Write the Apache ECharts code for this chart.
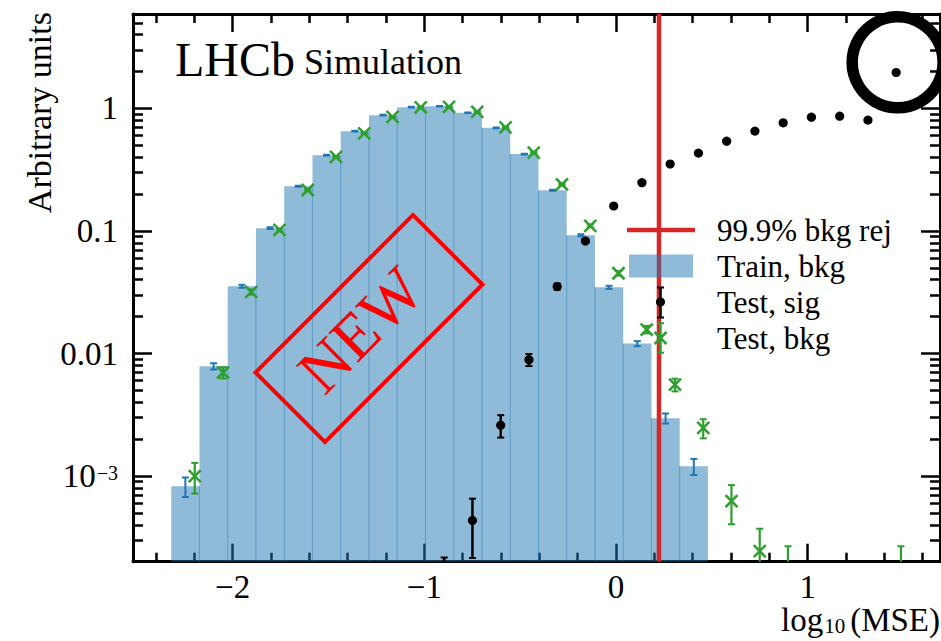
<!DOCTYPE html>
<html><head><meta charset="utf-8">
<script src="https://cdn.jsdelivr.net/npm/echarts@6/dist/echarts.min.js"></script>
<style>html,body{margin:0;padding:0;background:#fff}#c{width:941px;height:641px}</style>
</head><body><div id="c"></div>
<script>
// ---------------- data ----------------
const binEdges = [-2.3205, -2.1731, -2.0258, -1.8784, -1.7310, -1.5837, -1.4363, -1.2889, -1.1416, -0.9942,
  -0.8468, -0.6995, -0.5521, -0.4047, -0.2574, -0.1100, 0.0374, 0.1847, 0.3321, 0.4794];
const trainBkg = [8.24e-4, 7.87e-3, 0.0354, 0.1054, 0.232, 0.416, 0.653, 0.882, 1.025, 1.044,
  0.921, 0.695, 0.424, 0.215, 0.0923, 0.0347, 0.01205, 0.00296, 0.0012];
const trainErr = [1.5e-4, 4.6e-4, 9.8e-4, 0.0017, 0.0025, 0.0034, 0.0042, 0.0049, 0.0053, 0.0053,
  0.0050, 0.0043, 0.0034, 0.0024, 0.0016, 0.00097, 0.00057, 0.00028, 0.00018];
const testX = [-2.2468, -2.0995, -1.9521, -1.8047, -1.6574, -1.5100, -1.3626, -1.2153, -1.0679, -0.9205,
  -0.7732, -0.6258, -0.4784, -0.3311, -0.1837, -0.0363, 0.1110, 0.2584, 0.4058, 0.5531,
  0.7005, 0.8479, 0.9952, 1.1426, 1.2900, 1.4373];
const testSig = [null, null, null, null, null, null, null, null, null, 1.08e-4,
  4.34e-4, 2.6e-3, 0.0089, 0.0352, 0.083, 0.16, 0.248, 0.352, 0.432, 0.541,
  0.653, 0.763, 0.849, 0.865, 0.803, 1.965];
const testSigErr = [null, null, null, null, null, null, null, null, null, 1.08e-4,
  2.2e-4, 5.4e-4, 1.0e-3, 2.0e-3, 3.0e-3, 4.2e-3, 5.0e-3, 6.6e-3, 7.3e-3, 8.2e-3,
  9.0e-3, 9.7e-3, 1.02e-2, 1.03e-2, 9.9e-3, 1.55e-2];
const testBkg = [1.0e-3, 0.0070, 0.0318, 0.102, 0.216, 0.403, 0.625, 0.855, 1.02, 1.03,
  0.938, 0.70, 0.436, 0.24, 0.11, 0.0452, 0.0157, 0.00557, 0.00247, 6.24e-4,
  2.44e-4, 1.34e-4, null, null, null, 1.34e-4];
const testBkgErr = [2.8e-4, 7.4e-4, 1.56e-3, 2.8e-3, 4.1e-3, 5.6e-3, 6.9e-3, 8.1e-3, 8.9e-3, 8.9e-3,
  8.5e-3, 7.3e-3, 5.8e-3, 4.3e-3, 2.9e-3, 1.9e-3, 1.1e-3, 6.6e-4, 4.4e-4, 2.2e-4,
  1.27e-4, 1.34e-4, null, null, null, 1.34e-4];
const cutValue = 0.224;
const circleMark = [1.469, 2.38];
const stampCenter = [-1.289, 0.016];
const xMajor = [-2, -1, 0, 1];
const xMinor = [-2.4, -2.2, -1.8, -1.6, -1.4, -1.2, -0.8, -0.6, -0.4, -0.2, 0.2, 0.4, 0.6, 0.8, 1.2, 1.4, 1.6];
const yMajor = [0.001, 0.01, 0.1, 1];
const legendNames = ['99.9% bkg rej', 'Train, bkg', 'Test, sig', 'Test, bkg'];

// ---------------- layout / style ----------------
const X_MIN = -2.52, X_MAX = 1.69, Y_MIN = 2e-4, Y_MAX = 5.9;
const SIG_SHIFT = 0.024, BKG_SHIFT = 0.049;
const FONT = "'Liberation Serif', 'Times New Roman', serif";
const yMinor = [];
for (let e = -4; e <= 0; e++) for (let m = 2; m <= 9; m++) {
  const v = parseFloat(m + 'e' + e);
  if (v > Y_MIN && v < Y_MAX) yMinor.push(v);
}
const BLUE_FILL = 'rgba(31,119,180,0.5)';
const GRID = {left: 133, right: 1, top: 14, bottom: 79.3, containLabel: false, outerBoundsMode: 'none'};

function fmtX(v) { return '{n|' + (v < 0 ? '\u2212' + Math.abs(v) : String(v)) + '}'; }
function fmtY(v) {
  const e = Math.round(Math.log10(v));
  if (e === 0) return '{n|1}';
  if (e === -1) return '{n|0.1}';
  if (e === -2) return '{n|0.01}';
  return '{n|10}{e|\u2212' + Math.abs(e) + '}';
}
const labelRich = {
  n: {fontSize: 33, fontFamily: FONT, color: '#000'},
  e: {fontSize: 20, fontFamily: FONT, color: '#000', verticalAlign: 'top', padding: [3, 0, 0, 1]}
};

function tickAxisX(gridIndex, pos, values, len, withLine) {
  return {
    type: 'value', gridIndex, position: pos, min: X_MIN, max: X_MAX,
    axisLine: {show: withLine, onZero: false, lineStyle: {color: '#000', width: 3}},
    axisTick: {show: true, inside: true, length: len, customValues: values, lineStyle: {color: '#000', width: 2.5}},
    axisLabel: {show: false}, splitLine: {show: false}
  };
}
function tickAxisY(gridIndex, pos, values, len, withLine) {
  return {
    type: 'log', logBase: 10, gridIndex, position: pos, min: Y_MIN, max: Y_MAX,
    axisLine: {show: withLine, onZero: false, lineStyle: {color: '#000', width: 3}},
    axisTick: {show: true, inside: true, length: len, customValues: values, lineStyle: {color: '#000', width: 2.5}},
    axisLabel: {show: false}, splitLine: {show: false}
  };
}

const xAxes = [
  Object.assign(tickAxisX(0, 'bottom', xMajor, 18, true), {
    axisLabel: {show: true, customValues: xMajor, formatter: fmtX, margin: 9, fontSize: 33, fontFamily: FONT, color: '#000', rich: labelRich},
    name: '{a|log}{s|10}{a|(MSE)}', nameLocation: 'end', nameGap: 0, nameMoveOverlap: false,
    nameTextStyle: {align: 'right', verticalAlign: 'top', padding: [42, 0, 0, 0], fontSize: 33, fontFamily: FONT, color: '#000',
      rich: {a: {fontSize: 33, fontFamily: FONT, color: '#000'},
             s: {fontSize: 21, fontFamily: FONT, color: '#000', verticalAlign: 'bottom', padding: [0, 5, 0, 1]}}}
  }),
  tickAxisX(0, 'top', xMajor, 18, true),
  tickAxisX(1, 'bottom', xMinor, 9, false),
  tickAxisX(1, 'top', xMinor, 9, false)
];
const yAxes = [
  Object.assign(tickAxisY(0, 'left', yMajor, 19, true), {
    axisLabel: {show: true, customValues: yMajor, formatter: fmtY, margin: 15, fontSize: 33, fontFamily: FONT, color: '#000', rich: labelRich},
    name: 'Arbitrary units', nameLocation: 'end', nameGap: 2, nameRotate: 90, nameMoveOverlap: false,
    nameTextStyle: {align: 'right', verticalAlign: 'bottom', padding: [0, 0, 77, 0], fontSize: 34, fontFamily: FONT, color: '#000'}
  }),
  tickAxisY(0, 'right', yMajor, 19, true),
  tickAxisY(1, 'left', yMinor, 10, false),
  tickAxisY(1, 'right', yMinor, 10, false)
];

// ---------------- render helpers ----------------
function renderBars(params, api) {
  const x0 = api.value(0), x1 = api.value(1), v = api.value(2), seam = api.value(3);
  const pb = api.coord([x0, Y_MIN]);
  const pt = api.coord([x1, v]);
  const children = [{type: 'rect', shape: {x: pb[0], y: pt[1], width: pt[0] - pb[0], height: pb[1] - pt[1]},
    style: {fill: BLUE_FILL}}];
  if (seam > 0) {
    const s = api.coord([x0, seam]);
    children.push({type: 'line', shape: {x1: pb[0], y1: pb[1], x2: pb[0], y2: s[1]},
      style: {stroke: BLUE_FILL, lineWidth: 1}});
  }
  return {type: 'group', children};
}
function makeErr(color, lw, cap, marker) {
  return function (params, api) {
    const x = api.value(0), y = api.value(1), e = api.value(2);
    const lo = y - e > 0 ? y - e : Y_MIN * 0.3;
    const pc = api.coord([x, y]);
    const pl = api.coord([x, lo]);
    const ph = api.coord([x, y + e]);
    const cx = pc[0];
    const ch = [
      {type: 'line', shape: {x1: cx, y1: pl[1], x2: cx, y2: ph[1]}, style: {stroke: color, lineWidth: lw}},
      {type: 'line', shape: {x1: cx - cap / 2, y1: ph[1], x2: cx + cap / 2, y2: ph[1]}, style: {stroke: color, lineWidth: 2}}
    ];
    if (y - e > 0) ch.push({type: 'line', shape: {x1: cx - cap / 2, y1: pl[1], x2: cx + cap / 2, y2: pl[1]}, style: {stroke: color, lineWidth: 2}});
    if (marker === 'dot') ch.push({type: 'circle', shape: {cx: cx, cy: pc[1], r: 4.6}, style: {fill: color}});
    if (marker === 'x') {
      ch.push({type: 'line', shape: {x1: cx - 6, y1: pc[1] - 6, x2: cx + 6, y2: pc[1] + 6}, style: {stroke: color, lineWidth: 2.5}});
      ch.push({type: 'line', shape: {x1: cx + 6, y1: pc[1] - 6, x2: cx - 6, y2: pc[1] + 6}, style: {stroke: color, lineWidth: 2.5}});
    }
    return {type: 'group', children: ch};
  };
}

// ---------------- series data ----------------
const barData = trainBkg.map((v, i) => [binEdges[i], binEdges[i + 1], v, i > 0 ? Math.min(v, trainBkg[i - 1]) : 0]);
const trainErrData = trainBkg.map((v, i) => [(binEdges[i] + binEdges[i + 1]) / 2, v, trainErr[i]]);
const sigData = [];
testSig.forEach((v, i) => { if (v != null) sigData.push([testX[i] + SIG_SHIFT, v, testSigErr[i]]); });
const bkgData = [];
testBkg.forEach((v, i) => { if (v != null) bkgData.push([testX[i] + BKG_SHIFT, v, testBkgErr[i]]); });

// legend icons (85 x 34 boxes)
const ICON_BOX = 'path://M0,0M85,34';
const iconLine = ICON_BOX + 'M0,14.75L68,14.75L68,19.25L0,19.25Z';
const iconRect = ICON_BOX + 'M2,5.5L66,5.5L66,28.5L2,28.5Z';
const iconSig = ICON_BOX + 'M32.25,1.4L34.75,1.4L34.75,33.6L32.25,33.6Z' +
  'M30,1.4L37,1.4L37,3.4L30,3.4Z' + 'M30,31.6L37,31.6L37,33.6L30,33.6Z' +
  'M38.1,17A4.6,4.6,0,1,1,28.9,17A4.6,4.6,0,1,1,38.1,17Z';
const iconBkg = ICON_BOX + 'M32.4,1.2L34.6,1.2L34.6,32.8L32.4,32.8Z' +
  'M30,1.2L37,1.2L37,3.2L30,3.2Z' + 'M30,30.8L37,30.8L37,32.8L30,32.8Z' +
  'M28.384,10.116L40.384,22.116L38.616,23.884L26.616,11.884Z' +
  'M40.384,11.884L28.384,23.884L26.616,22.116L38.616,10.116Z';

const chart = echarts.init(document.getElementById('c'), null, {renderer: 'svg'});
chart.setOption({
  animation: false,
  backgroundColor: '#fff',
  textStyle: {fontFamily: FONT},
  grid: [Object.assign({}, GRID), Object.assign({}, GRID)],
  xAxis: xAxes,
  yAxis: yAxes,
  legend: {
    orient: 'vertical', left: 627, top: 213, padding: 0, itemGap: 2, itemWidth: 85, itemHeight: 34,
    selectedMode: false,
    textStyle: {fontSize: 31, fontFamily: FONT, color: '#000'},
    data: [
      {name: legendNames[0], icon: iconLine, itemStyle: {color: '#d62728', borderWidth: 0}},
      {name: legendNames[1], icon: iconRect, itemStyle: {color: BLUE_FILL, borderWidth: 0}},
      {name: legendNames[2], icon: iconSig, itemStyle: {color: '#000', borderWidth: 0}},
      {name: legendNames[3], icon: iconBkg, itemStyle: {color: '#2ca02c', borderWidth: 0}}
    ]
  },
  series: [
    {name: legendNames[1], type: 'custom', xAxisIndex: 0, yAxisIndex: 0, clip: true, silent: true,
      itemStyle: {color: BLUE_FILL}, renderItem: renderBars, encode: {x: [0, 1], y: 2}, data: barData, z: 1},
    {name: 'Train, bkg (unc.)', type: 'custom', xAxisIndex: 0, yAxisIndex: 0, clip: true, silent: true,
      itemStyle: {color: '#1f77b4'}, renderItem: makeErr('#1f77b4', 2, 7, null), encode: {x: 0, y: 1}, data: trainErrData, z: 2},
    {name: legendNames[0], type: 'custom', xAxisIndex: 0, yAxisIndex: 0, clip: true, silent: true,
      itemStyle: {color: '#d62728'}, encode: {x: 0},
      renderItem: function (params, api) {
        const a = api.coord([api.value(0), Y_MIN]);
        const b = api.coord([api.value(0), Y_MAX]);
        return {type: 'line', shape: {x1: a[0], y1: a[1], x2: b[0], y2: b[1]}, style: {stroke: '#d62728', lineWidth: 4.5}};
      },
      data: [[cutValue]], z: 3},
    {name: legendNames[2], type: 'custom', xAxisIndex: 0, yAxisIndex: 0, clip: true, silent: true,
      itemStyle: {color: '#000'}, renderItem: makeErr('#000', 2.5, 7, 'dot'), encode: {x: 0, y: 1}, data: sigData, z: 4},
    {name: legendNames[3], type: 'custom', xAxisIndex: 0, yAxisIndex: 0, clip: true, silent: true,
      itemStyle: {color: '#2ca02c'}, renderItem: makeErr('#2ca02c', 2.2, 7, 'x'), encode: {x: 0, y: 1}, data: bkgData, z: 4},
    {name: 'highlight', type: 'scatter', xAxisIndex: 0, yAxisIndex: 0, clip: false, silent: true,
      symbol: 'circle', symbolSize: 91,
      itemStyle: {color: 'rgba(0,0,0,0)', borderColor: '#000', borderWidth: 11.5, opacity: 1},
      data: [circleMark], z: 5}
  ]
});

const sc = chart.convertToPixel({xAxisIndex: 0, yAxisIndex: 0}, stampCenter);
chart.setOption({
  graphic: [
    {type: 'text', left: 175, top: 35, silent: true, z: 100,
      style: {text: 'LHCb', fontSize: 48, fontFamily: FONT, fill: '#000'}},
    {type: 'text', left: 304, top: 44, silent: true, z: 100,
      style: {text: 'Simulation', fontSize: 36, fontFamily: FONT, fill: '#000'}},
    {type: 'group', x: sc[0], y: sc[1], rotation: Math.PI / 4, silent: true, z: 100, children: [
      {type: 'rect', z: 100, shape: {x: -111.35, y: -49.15, width: 222.7, height: 98.3},
        style: {fill: 'none', stroke: '#ff0000', lineWidth: 4}},
      {type: 'text', z: 100, x: -7, y: -5,
        style: {text: 'NEW', fontSize: 64, fontFamily: FONT, fill: '#ff0000', align: 'center', verticalAlign: 'middle'}}
    ]}
  ]
});
</script>
</body></html>
